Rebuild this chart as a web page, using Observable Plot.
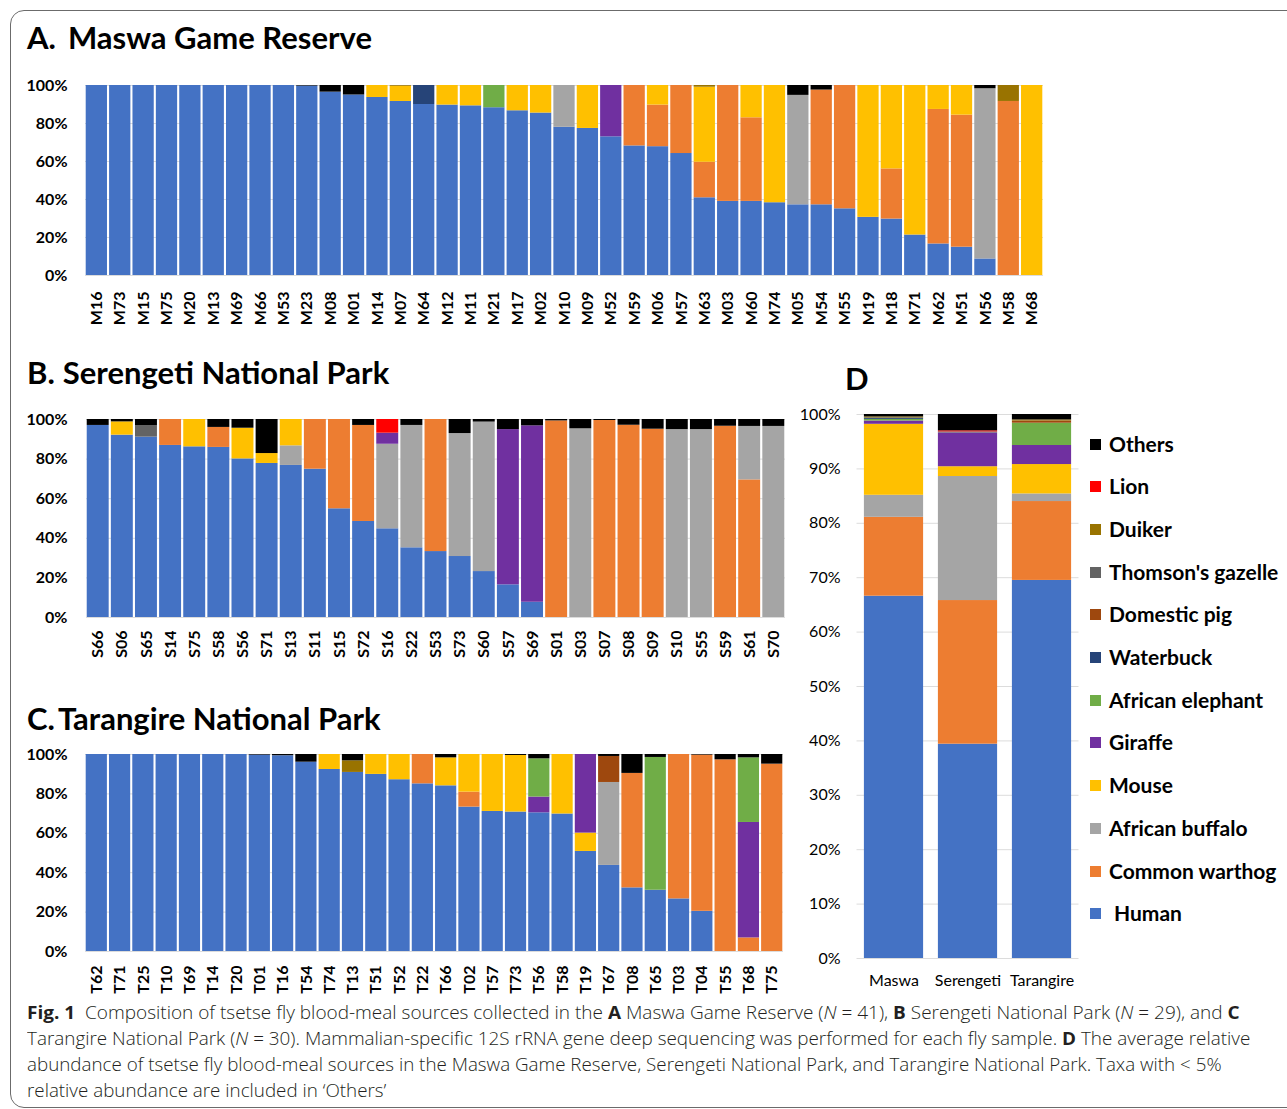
<!DOCTYPE html>
<html><head><meta charset="utf-8">
<script src="https://cdn.jsdelivr.net/npm/d3@7"></script>
<script src="https://cdn.jsdelivr.net/npm/@observablehq/plot@0.6"></script>
<style>
html,body{margin:0;padding:0;background:#fff;}
#root{position:relative;width:1287px;height:1109px;overflow:hidden;font-family:Lato,"Open Sans",sans-serif;color:#000;}
.frame{position:absolute;left:10px;top:10px;width:1320px;height:1098px;border:1.3px solid #6b6b6b;border-radius:14px;box-sizing:border-box;}
.title{position:absolute;font-weight:700;font-size:31px;white-space:nowrap;line-height:1;}
.panel{position:absolute;}
.panel svg{overflow:visible;}
.legend{position:absolute;left:1090px;top:0;}
.legend .txt{position:absolute;left:19px;white-space:nowrap;font-weight:700;font-size:21px;line-height:1;}
.legend .sw{position:absolute;left:0;width:11px;height:11px;}
.cap{position:absolute;left:27px;white-space:nowrap;font-family:"Open Sans",sans-serif;font-weight:300;font-size:18px;color:#231f20;transform-origin:0 50%;line-height:1;}
.cap b{font-weight:700;}
</style>
</head>
<body>
<div id="root">
  <div class="frame"></div>
  <div class="title" style="left:27px;top:22px;"><span style="margin-right:12px">A.</span>Maswa Game Reserve</div>
  <div class="title" style="left:27px;top:357px;"><span style="margin-right:8px">B.</span>Serengeti National Park</div>
  <div class="title" style="left:27px;top:703px;"><span style="margin-right:3px">C.</span>Tarangire National Park</div>
  <div class="title" style="left:845px;top:363px;">D</div>
  <div class="panel" id="pA" style="left:0;top:75px;"></div>
  <div class="panel" id="pB" style="left:0;top:410px;"></div>
  <div class="panel" id="pC" style="left:0;top:745px;"></div>
  <div class="panel" id="pD" style="left:790px;top:400px;"></div>
  <div class="legend" id="legend"></div>
  <div class="cap" id="cap1" style="top:1003px;"><b>Fig. 1</b>&nbsp; Composition of tsetse fly blood-meal sources collected in the <b>A</b> Maswa Game Reserve (<i>N</i> = 41), <b>B</b> Serengeti National Park (<i>N</i> = 29), and <b>C</b></div>
  <div class="cap" id="cap2" style="top:1029px;">Tarangire National Park (<i>N</i> = 30). Mammalian-specific 12S rRNA gene deep sequencing was performed for each fly sample. <b>D</b> The average relative</div>
  <div class="cap" id="cap3" style="top:1055px;">abundance of tsetse fly blood-meal sources in the Maswa Game Reserve, Serengeti National Park, and Tarangire National Park. Taxa with &lt; 5%</div>
  <div class="cap" id="cap4" style="top:1081px;">relative abundance are included in ‘Others’</div>
</div>
<script>
// Taxa (stack order, bottom to top) and colours
const taxa = ["Human","Common warthog","African buffalo","Mouse","Giraffe","African elephant","Waterbuck","Domestic pig","Thomson's gazelle","Duiker","Lion","Others"];
const taxonColors = ["#4472C4","#ED7D31","#A5A5A5","#FFC000","#7030A0","#70AD47","#264478","#9E480E","#636363","#997300","#FF0000","#000000"];

// Row columns follow the taxa order: [Human, Warthog, Buffalo, Mouse, Giraffe, Elephant, Waterbuck, Pig, Gazelle, Duiker, Lion, Others]
const maswaSamples = ["M16","M73","M15","M75","M20","M13","M69","M66","M53","M23","M08","M01","M14","M07","M64","M12","M11","M21","M17","M02","M10","M09","M52","M59","M06","M57","M63","M03","M60","M74","M05","M54","M55","M19","M18","M71","M62","M51","M56","M58","M68"];
const maswaValues = [
  [100,0,0,0,0,0,0,0,0,0,0,0],[100,0,0,0,0,0,0,0,0,0,0,0],[100,0,0,0,0,0,0,0,0,0,0,0],
  [100,0,0,0,0,0,0,0,0,0,0,0],[100,0,0,0,0,0,0,0,0,0,0,0],[100,0,0,0,0,0,0,0,0,0,0,0],
  [100,0,0,0,0,0,0,0,0,0,0,0],[100,0,0,0,0,0,0,0,0,0,0,0],[100,0,0,0,0,0,0,0,0,0,0,0],
  [99.7,0,0,0,0,0,0,0,0,0,0,0.3],
  [96.5,0,0,0,0,0,0,0,0,0,0,3.5],
  [95,0,0,0,0,0,0,0,0,0,0,5],
  [93.7,0,0,6.3,0,0,0,0,0,0,0,0],
  [91.6,0,0,8,0,0,0,0,0,0.4,0,0],
  [90,0,0,0,0,0,10,0,0,0,0,0],
  [89.7,0,0,10.3,0,0,0,0,0,0,0,0],
  [89.3,0,0,10.7,0,0,0,0,0,0,0,0],
  [88.3,0,0,0,0,11.7,0,0,0,0,0,0],
  [86.7,0,0,13.3,0,0,0,0,0,0,0,0],
  [85.5,0,0,14.5,0,0,0,0,0,0,0,0],
  [78,0,22,0,0,0,0,0,0,0,0,0],
  [77.4,0,0,22.6,0,0,0,0,0,0,0,0],
  [73,0,0,0,27,0,0,0,0,0,0,0],
  [68.2,31.8,0,0,0,0,0,0,0,0,0,0],
  [67.8,21.9,0,10.3,0,0,0,0,0,0,0,0],
  [64.2,35.8,0,0,0,0,0,0,0,0,0,0],
  [40.9,18.7,0,39.5,0,0,0,0,0,0.9,0,0],
  [39,61,0,0,0,0,0,0,0,0,0,0],
  [39,44,0,17,0,0,0,0,0,0,0,0],
  [38.3,0,0,61.7,0,0,0,0,0,0,0,0],
  [37.2,0,57.6,0,0,0,0,0,0,0,0,5.2],
  [37.2,60.4,0,0,0,0,0,0,0,0,0,2.4],
  [35.1,64.9,0,0,0,0,0,0,0,0,0,0],
  [30.6,0,0,69.4,0,0,0,0,0,0,0,0],
  [29.7,26.4,0,43.9,0,0,0,0,0,0,0,0],
  [21.3,0,0,78.7,0,0,0,0,0,0,0,0],
  [16.6,70.8,0,12.6,0,0,0,0,0,0,0,0],
  [14.9,69.5,0,15.6,0,0,0,0,0,0,0,0],
  [8.7,0,89.6,0,0,0,0,0,0,0,0,1.7],
  [0,91.6,0,0,0,0,0,0,0,8.4,0,0],
  [0,0,0,100,0,0,0,0,0,0,0,0]
];

const serengetiSamples = ["S66","S06","S65","S14","S75","S58","S56","S71","S13","S11","S15","S72","S16","S22","S53","S73","S60","S57","S69","S01","S03","S07","S08","S09","S10","S55","S59","S61","S70"];
const serengetiValues = [
  [97,0,0,0,0,0,0,0,0,0,0,3],
  [92.1,0,0,6.7,0,0,0,0,0,0,0,1.2],
  [91.1,0,0,0,0,0,0,0,5.7,0,0,3.2],
  [86.9,13.1,0,0,0,0,0,0,0,0,0,0],
  [86.2,0,0,13.8,0,0,0,0,0,0,0,0],
  [85.9,10.1,0,0,0,0,0,0,0,0,0,4],
  [80.1,0,0,15.5,0,0,0,0,0,0,0,4.4],
  [77.8,0,0,5,0,0,0,0,0,0,0,17.2],
  [76.8,0,9.9,13.3,0,0,0,0,0,0,0,0],
  [74.9,25.1,0,0,0,0,0,0,0,0,0,0],
  [54.9,45.1,0,0,0,0,0,0,0,0,0,0],
  [48.5,48.5,0,0,0,0,0,0,0,0,0,3],
  [44.8,0,42.7,0,5.6,0,0,0,0,0,6.9,0],
  [35.2,0,61.8,0,0,0,0,0,0,0,0,3],
  [33.3,66.7,0,0,0,0,0,0,0,0,0,0],
  [30.8,0,62.1,0,0,0,0,0,0,0,0,7.1],
  [23.2,0,75.5,0,0,0,0,0,0,0,0,1.3],
  [16.5,0,0,0,78.4,0,0,0,0,0,0,5.1],
  [7.7,0,0,0,89.1,0,0,0,0,0,0,3.2],
  [0,99.3,0,0,0,0,0,0,0,0,0,0.7],
  [0,0,95.3,0,0,0,0,0,0,0,0,4.7],
  [0,99.5,0,0,0,0,0,0,0,0,0,0.5],
  [0,97.1,0,0,0,0,0,0,0,0,0,2.9],
  [0,95.1,0,0,0,0,0,0,0,0,0,4.9],
  [0,0,94.9,0,0,0,0,0,0,0,0,5.1],
  [0,0,94.9,0,0,0,0,0,0,0,0,5.1],
  [0,96.6,0,0,0,0,0,0,0,0,0,3.4],
  [0,69.5,27,0,0,0,0,0,0,0,0,3.5],
  [0,0,96.5,0,0,0,0,0,0,0,0,3.5]
];

const tarangireSamples = ["T62","T71","T25","T10","T69","T14","T20","T01","T16","T54","T74","T13","T51","T52","T22","T66","T02","T57","T73","T56","T58","T19","T67","T08","T65","T03","T04","T55","T68","T75"];
const tarangireValues = [
  [100,0,0,0,0,0,0,0,0,0,0,0],[100,0,0,0,0,0,0,0,0,0,0,0],[100,0,0,0,0,0,0,0,0,0,0,0],
  [100,0,0,0,0,0,0,0,0,0,0,0],[100,0,0,0,0,0,0,0,0,0,0,0],[100,0,0,0,0,0,0,0,0,0,0,0],
  [100,0,0,0,0,0,0,0,0,0,0,0],
  [99.7,0,0,0,0,0,0,0,0,0,0,0.3],
  [99.2,0,0,0,0,0,0.3,0,0,0,0,0.5],
  [96.1,0,0,0,0,0,0,0,0,0,0,3.9],
  [92.4,0,0,7.6,0,0,0,0,0,0,0,0],
  [90.9,0,0,0,0,0,0,0,0,5.9,0,3.2],
  [89.9,0,0,10.1,0,0,0,0,0,0,0,0],
  [87.2,0,0,12.8,0,0,0,0,0,0,0,0],
  [85.1,14.9,0,0,0,0,0,0,0,0,0,0],
  [84.1,0,0,14.2,0,0,0,0,0,0,0,1.7],
  [73.3,7.6,0,19.1,0,0,0,0,0,0,0,0],
  [71.1,0,0,28.9,0,0,0,0,0,0,0,0],
  [70.8,0,0,28.7,0,0,0,0,0,0,0,0.5],
  [70.4,0,0,0,8,19.4,0,0,0,0,0,2.2],
  [69.8,0,0,30.2,0,0,0,0,0,0,0,0],
  [50.8,0,0,9.3,39.9,0,0,0,0,0,0,0],
  [43.7,0,42.1,0,0,0,0,13.2,0,0,0,1],
  [32.3,58.1,0,0,0,0,0,0,0,0,0,9.6],
  [31.1,0,0,0,0,67.4,0,0,0,0,0,1.5],
  [26.7,73.3,0,0,0,0,0,0,0,0,0,0],
  [20.4,79.3,0,0,0,0,0,0,0,0,0,0.3],
  [0,97.3,0,0,0,0,0,0,0,0,0,2.7],
  [0,6.9,0,0,58.6,32.8,0,0,0,0,0,1.7],
  [0,95.1,0,0,0,0,0,0,0,0,0,4.9]
];

// Panel D: average relative abundance per park
const parks = ["Maswa","Serengeti","Tarangire"];
const parkValues = [
  [66.6,14.5,4.05,13.05,0.6,0.3,0.25,0,0,0.2,0,0.45],
  [39.4,26.4,22.8,1.8,6.2,0,0,0,0.2,0,0.2,3.0],
  [69.5,14.5,1.4,5.4,3.5,4.1,0,0.4,0,0.2,0,1.0]
];

const ticksABC = [0,20,40,60,80,100];
const ticksD = [0,10,20,30,40,50,60,70,80,90,100];

function toLong(samples, rows) {
  const out = [];
  samples.forEach((s, i) => rows[i].forEach((v, j) => { if (v > 0) out.push({sample: s, taxon: taxa[j], value: v}); }));
  return out;
}

function stackedPanel(o) {
  const data = toLong(o.samples, o.rows);
  return Plot.plot({
    width: o.width, height: o.height,
    marginTop: o.mt, marginBottom: o.mb, marginLeft: o.ml, marginRight: o.mr,
    style: {fontFamily: "Lato, sans-serif", fontSize: o.fontSize || "16px", fontWeight: o.weight, color: "#000", background: "transparent", overflow: "visible"},
    x: {domain: o.samples, round: false, paddingInner: o.padIn, paddingOuter: o.padOut, tickRotate: o.rotate, tickSize: 0, tickPadding: o.xPad, label: null},
    y: {domain: [0, 100], ticks: o.yTicks, tickFormat: d => d + "%", tickSize: 0, tickPadding: o.yPad, label: null},
    color: {domain: taxa, range: taxonColors},
    marks: [
      Plot.ruleY(o.yTicks, {stroke: "#dcdcdc", strokeWidth: 1}),
      Plot.barY(data, Plot.stackY({x: "sample", y: "value", fill: "taxon", order: taxa}))
    ]
  });
}

document.getElementById("pA").append(stackedPanel({
  samples: maswaSamples, rows: maswaValues, width: 1060, height: 255,
  mt: 10, mb: 55, ml: 85, mr: 17, padIn: 0.09, padOut: 0.03, rotate: -90, xPad: 16, yPad: 18,
  yTicks: ticksABC, weight: 700
}));
document.getElementById("pB").append(stackedPanel({
  samples: serengetiSamples, rows: serengetiValues, width: 800, height: 260,
  mt: 9, mb: 53, ml: 86, mr: 15, padIn: 0.09, padOut: 0.03, rotate: -90, xPad: 13, yPad: 19,
  yTicks: ticksABC, weight: 700
}));
document.getElementById("pC").append(stackedPanel({
  samples: tarangireSamples, rows: tarangireValues, width: 800, height: 255,
  mt: 9, mb: 49, ml: 85, mr: 17, padIn: 0.09, padOut: 0.03, rotate: -90, xPad: 14, yPad: 18,
  yTicks: ticksABC, weight: 700
}));
document.getElementById("pD").append(stackedPanel({
  samples: parks, rows: parkValues, width: 295, height: 600,
  mt: 14, mb: 42, ml: 66.5, mr: 6.5, padIn: 0.2, padOut: 0.1, rotate: 0, xPad: 16, yPad: 16.5,
  yTicks: ticksD, weight: 400
}));

// Legend (top to bottom = reverse of stack order)
const legend = document.getElementById("legend");
const legendTop = 444, legendStep = 42.7;
taxa.slice().reverse().forEach((t, i) => {
  const cy = legendTop + i * legendStep;
  const sw = document.createElement("div");
  sw.className = "sw"; sw.style.top = (cy - 5.5) + "px";
  sw.style.background = taxonColors[taxa.indexOf(t)];
  const tx = document.createElement("div");
  tx.className = "txt"; tx.style.top = (cy - 11.5) + "px";
  if (t === "Human") tx.style.left = "24px";
  tx.textContent = t;
  legend.append(sw, tx);
});

// Fit caption lines to the reference line widths
function fitCaption() {
  const targets = {cap1: 1213, cap2: 1223, cap3: 1195};
  let k = 1;
  for (const id of ["cap1","cap2","cap3"]) {
    const el = document.getElementById(id);
    k = targets[id] / el.offsetWidth;
    el.style.transform = `scaleX(${k})`;
  }
  document.getElementById("cap4").style.transform = `scaleX(${k})`;
}
if (document.fonts && document.fonts.ready) document.fonts.ready.then(fitCaption); else fitCaption();
fitCaption();
</script>
</body></html>
